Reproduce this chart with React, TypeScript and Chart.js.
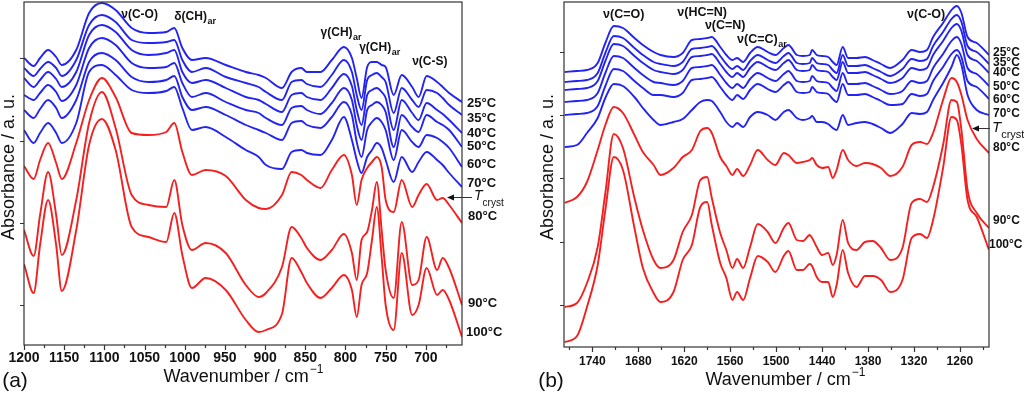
import React, { useEffect, useRef } from "react";
import { Chart, registerables } from "chart.js";

Chart.register(...registerables);

const FONT = "'Liberation Sans', Arial, Helvetica, sans-serif";
const BLUE = "#2323f2";
const RED = "#f42020";
const INK = "#111111";
const AXIS = "#333333";

// ---------------- Panel (a) data: wavenumber (cm-1) and absorbance (a.u., offset traces) ----------------
const WN_A = [1200, 1188, 1180, 1170, 1160, 1153, 1135, 1119, 1103, 1086, 1066, 1045, 1023, 1013, 1003, 991, 974, 949, 924, 908, 899, 879, 867, 855, 848, 831, 817, 802, 792, 786, 780, 773, 767, 761, 755, 750, 740, 730, 717, 709, 699, 686, 679, 671, 655];
const A_25 = [287, 279, 287, 295, 288, 280, 295, 332, 342, 335, 317, 312, 313, 317, 297, 285, 287, 280, 273, 270, 267, 257, 273, 277, 273, 273, 285, 298, 287, 267, 247, 278, 283, 283, 280, 278, 250, 270, 258, 248, 269, 263, 258, 252, 243];
const A_35 = [277, 269, 276, 283, 277, 269, 285, 320, 330, 323, 305, 302, 303, 305, 285, 273, 277, 268, 262, 258, 253, 245, 263, 265, 261, 258, 270, 285, 273, 250, 235, 265, 270, 272, 268, 263, 232, 257, 245, 238, 255, 252, 247, 240, 230];
const A_40 = [267, 258, 265, 273, 266, 258, 273, 310, 320, 313, 295, 290, 292, 295, 273, 262, 265, 257, 248, 245, 241, 233, 250, 252, 248, 245, 257, 271, 259, 235, 220, 250, 255, 257, 253, 247, 215, 245, 232, 225, 242, 235, 231, 225, 212];
const A_50 = [250, 245, 252, 260, 253, 244, 260, 297, 307, 300, 282, 277, 278, 282, 262, 248, 252, 243, 235, 232, 227, 220, 237, 239, 235, 231, 242, 257, 245, 220, 205, 235, 240, 243, 240, 233, 198, 230, 218, 213, 230, 223, 220, 215, 198];
const A_60 = [235, 227, 236, 245, 237, 227, 245, 283, 292, 285, 268, 263, 265, 269, 248, 235, 238, 230, 220, 215, 212, 205, 222, 224, 220, 217, 228, 243, 230, 203, 188, 215, 223, 227, 223, 215, 185, 215, 203, 198, 210, 207, 203, 197, 178];
const A_70 = [215, 202, 212, 222, 212, 202, 222, 273, 280, 270, 255, 252, 254, 258, 237, 215, 218, 208, 195, 188, 180, 176, 193, 195, 192, 190, 205, 228, 205, 185, 172, 188, 195, 202, 197, 185, 163, 188, 173, 183, 193, 185, 180, 172, 158];
const A_80 = [179, 166, 185, 202, 182, 166, 202, 245, 267, 248, 212, 210, 213, 222, 193, 170, 175, 169, 145, 137, 136, 150, 173, 170, 165, 157, 175, 190, 170, 140, 165, 177, 183, 188, 178, 145, 133, 165, 138, 150, 161, 145, 147, 140, 122];
const A_90 = [115, 89, 130, 173, 130, 90, 145, 222, 253, 217, 150, 140, 138, 165, 120, 95, 102, 92, 60, 48, 52, 78, 118, 107, 97, 85, 95, 111, 92, 65, 105, 113, 135, 163, 115, 75, 47, 123, 60, 65, 108, 75, 87, 77, 40];
const A_100 = [81, 52, 100, 145, 100, 54, 115, 200, 226, 195, 118, 108, 103, 132, 90, 57, 67, 55, 25, 13, 15, 31, 87, 73, 62, 47, 57, 70, 55, 28, 60, 72, 105, 138, 88, 40, 15, 92, 30, 40, 77, 50, 55, 45, 8];

const X_TICKS_A = [1200, 1150, 1100, 1050, 1000, 950, 900, 850, 800, 750, 700];
const Y_TICKS_A = [40, 122, 204, 287];

// ---------------- Panel (b) data ----------------
const WN_B = [1776, 1760, 1747, 1733, 1723, 1712, 1700, 1685, 1674, 1660, 1651, 1634, 1622, 1610, 1599, 1590, 1584, 1573, 1565, 1557, 1551, 1543, 1534, 1524, 1511, 1501, 1490, 1484, 1473, 1465, 1456, 1453, 1447, 1440, 1432, 1426, 1421, 1413, 1406, 1395, 1384, 1374, 1363, 1351, 1335, 1323, 1312, 1303, 1295, 1282, 1271, 1264, 1258, 1250, 1238, 1222];
const B_25 = [275, 276, 277, 284, 304, 321, 319, 309, 302, 295, 292, 290, 294, 307, 308, 309, 310, 300, 292, 287, 289, 285, 294, 300, 295, 292, 299, 302, 292, 291, 292, 297, 292, 291, 290, 285, 282, 300, 289, 289, 290, 287, 283, 279, 287, 297, 295, 297, 310, 324, 337, 341, 334, 310, 304, 292];
const B_35 = [265, 266, 267, 274, 294, 311, 309, 299, 292, 285, 283, 281, 285, 298, 299, 300, 301, 291, 283, 278, 281, 277, 286, 292, 287, 284, 291, 294, 284, 283, 284, 289, 284, 283, 282, 277, 274, 292, 281, 281, 282, 279, 275, 271, 278, 288, 286, 288, 301, 315, 328, 332, 325, 301, 295, 283];
const B_40 = [257, 258, 259, 266, 286, 303, 301, 291, 284, 277, 275, 273, 277, 290, 291, 292, 293, 283, 275, 270, 274, 270, 279, 285, 280, 277, 284, 287, 277, 276, 277, 282, 277, 276, 275, 270, 267, 285, 274, 274, 275, 272, 268, 264, 269, 279, 277, 279, 292, 306, 319, 323, 316, 292, 286, 274];
const B_50 = [245, 246, 247, 254, 274, 291, 289, 279, 272, 265, 264, 262, 266, 279, 280, 281, 282, 272, 264, 259, 263, 259, 268, 274, 269, 266, 273, 276, 266, 265, 266, 271, 266, 265, 264, 259, 256, 274, 263, 263, 264, 261, 257, 253, 256, 266, 264, 266, 279, 293, 306, 310, 303, 279, 273, 261];
const B_60 = [232, 233, 234, 241, 261, 278, 276, 266, 259, 252, 252, 250, 254, 267, 268, 269, 270, 260, 252, 247, 252, 248, 257, 263, 258, 255, 262, 265, 255, 254, 255, 260, 255, 254, 253, 248, 245, 263, 252, 252, 253, 250, 246, 242, 243, 253, 251, 253, 266, 280, 293, 297, 290, 266, 260, 248];
const B_70 = [200, 202, 214, 229, 249, 263, 261, 250, 239, 227, 222, 225, 228, 237, 245, 247, 246, 235, 225, 220, 224, 220, 230, 235, 232, 227, 235, 237, 229, 227, 229, 231, 225, 225, 223, 219, 217, 232, 222, 224, 225, 223, 219, 214, 223, 234, 233, 235, 247, 264, 280, 292, 282, 252, 237, 232];
const B_80 = [144, 150, 165, 197, 222, 240, 234, 212, 195, 182, 172, 179, 190, 197, 216, 219, 214, 190, 181, 172, 178, 171, 182, 197, 187, 182, 194, 192, 184, 185, 187, 189, 182, 179, 180, 169, 177, 197, 187, 181, 184, 183, 179, 171, 180, 202, 205, 203, 214, 247, 269, 265, 252, 227, 208, 194];
const B_90 = [40, 44, 64, 100, 154, 213, 199, 149, 117, 87, 79, 87, 115, 132, 167, 170, 149, 114, 97, 79, 88, 79, 100, 123, 115, 104, 119, 124, 107, 106, 112, 109, 100, 92, 94, 82, 92, 127, 104, 97, 105, 106, 99, 87, 99, 144, 148, 145, 160, 202, 247, 245, 217, 157, 134, 119];
const B_100 = [5, 11, 40, 82, 137, 190, 177, 119, 79, 54, 45, 55, 87, 102, 140, 145, 122, 84, 69, 47, 55, 47, 69, 91, 85, 75, 91, 96, 77, 77, 83, 81, 70, 65, 65, 50, 62, 97, 74, 60, 71, 71, 67, 55, 67, 109, 113, 109, 127, 179, 230, 227, 202, 147, 130, 97];

const X_TICKS_B = [1740, 1680, 1620, 1560, 1500, 1440, 1380, 1320, 1260];
const Y_TICKS_B = [42, 105, 169, 232, 295];

const TEMPS = ["25°C", "35°C", "40°C", "50°C", "60°C", "70°C", "80°C", "90°C", "100°C"];
const TEMP_H_A = [242, 227, 212, 199, 181, 162, 129, 42, 13];
const TEMP_H_B = [294, 284, 274, 260, 247, 233, 199, 126, 102];

type Ann = { text: string; sub?: string; wn: number; h: number };
const ANN_A: Ann[] = [
  { text: "ν(C-O)", wn: 1079, h: 330 },
  { text: "δ(CH)", sub: "ar", wn: 1013, h: 328 },
  { text: "γ(CH)", sub: "ar", wn: 831, h: 312 },
  { text: "γ(CH)", sub: "ar", wn: 783, h: 297 },
  { text: "ν(C-S)", wn: 717, h: 283 },
];
const ANN_B: Ann[] = [
  { text: "ν(C=O)", wn: 1726, h: 332 },
  { text: "ν(HC=N)", wn: 1629, h: 334 },
  { text: "ν(C=N)", wn: 1593, h: 321 },
  { text: "ν(C=C)", sub: "ar", wn: 1551, h: 307 },
  { text: "ν(C-O)", wn: 1329, h: 332 },
];

interface Panel {
  wn: number[];
  series: number[][];
  xMin: number;
  xMax: number;
  yMax: number;
  xTicks: number[];
  xMinor: number;
  yTicks: number[];
  tickFont: number;
  tickPad: number;
  tempH: number[];
  tempDx: number[];
  tempFont: number;
  anns: Ann[];
  annFont: number;
  tcryst: { h: number; x1: number; x2: number; tx: number; size: number };
  yTitle: { x: number; y: number };
  xTitle: { x: number; y: number };
  letter: { text: string; x: number; y: number };
  padLeft: number;
  yWidth: number;
  padRight: number;
  padTop: number;
  xHeight: number;
}

const PANEL_A: Panel = {
  wn: WN_A,
  series: [A_25, A_35, A_40, A_50, A_60, A_70, A_80, A_90, A_100],
  xMin: 655,
  xMax: 1200,
  yMax: 343,
  xTicks: X_TICKS_A,
  xMinor: 25,
  yTicks: Y_TICKS_A,
  tickFont: 14,
  tickPad: 5,
  tempH: TEMP_H_A,
  tempDx: [5, 5, 5, 5, 5, 5, 6, 6, 4],
  tempFont: 13,
  anns: ANN_A,
  annFont: 12,
  tcryst: { h: 148, x1: 10, x2: -15, tx: 12, size: 14 },
  yTitle: { x: 9, y: 167 },
  xTitle: { x: 243, y: 377 },
  letter: { text: "(a)", x: 15, y: 381 },
  padLeft: 0,
  yWidth: 24,
  padRight: 50,
  padTop: 2,
  xHeight: 50,
};

const PANEL_B: Panel = {
  wn: WN_B,
  series: [B_25, B_35, B_40, B_50, B_60, B_70, B_80, B_90, B_100],
  xMin: 1222,
  xMax: 1777,
  yMax: 345,
  xTicks: X_TICKS_B,
  xMinor: 30,
  yTicks: Y_TICKS_B,
  tickFont: 12,
  tickPad: 7,
  tempH: TEMP_H_B,
  tempDx: [4, 4, 4, 4, 4, 4, 4, 4, 0],
  tempFont: 12,
  anns: ANN_B,
  annFont: 12.5,
  tcryst: { h: 219, x1: 1, x2: -17, tx: 3, size: 15 },
  yTitle: { x: 36, y: 167 },
  xTitle: { x: 273, y: 380 },
  letter: { text: "(b)", x: 39, y: 381 },
  padLeft: 26,
  yWidth: 26,
  padRight: 35,
  padTop: 2,
  xHeight: 48,
};

function overlayPlugin(p: Panel) {
  return {
    id: "overlay",
    afterDraw(chart: any) {
      const ctx: CanvasRenderingContext2D = chart.ctx;
      const a = chart.chartArea;
      const xs = chart.scales.x;
      const ys = chart.scales.y;
      ctx.save();

      // frame
      ctx.strokeStyle = AXIS;
      ctx.lineWidth = 1.2;
      ctx.strokeRect(a.left, a.top, a.right - a.left, a.bottom - a.top);

      // tick marks
      ctx.beginPath();
      const start = Math.ceil(p.xMin / p.xMinor) * p.xMinor;
      for (let v = start; v <= p.xMax; v += p.xMinor) {
        const px = Math.round(xs.getPixelForValue(v)) + 0.5;
        const major = p.xTicks.indexOf(v) >= 0;
        ctx.moveTo(px, a.bottom);
        ctx.lineTo(px, a.bottom + (major ? 5 : 3));
      }
      for (const v of p.yTicks) {
        const py = Math.round(ys.getPixelForValue(v)) + 0.5;
        ctx.moveTo(a.left - 4, py);
        ctx.lineTo(a.left, py);
      }
      ctx.stroke();

      ctx.fillStyle = INK;
      ctx.textBaseline = "middle";
      ctx.textAlign = "left";

      // band annotations
      for (const an of p.anns) {
        const x = xs.getPixelForValue(an.wn);
        const y = ys.getPixelForValue(an.h);
        ctx.font = `bold ${p.annFont}px ${FONT}`;
        ctx.fillText(an.text, x, y);
        if (an.sub) {
          const w = ctx.measureText(an.text).width;
          ctx.font = `bold ${Math.round(p.annFont * 0.72)}px ${FONT}`;
          ctx.fillText(an.sub, x + w + 0.5, y + p.annFont * 0.4);
        }
      }

      // temperature labels
      ctx.font = `bold ${p.tempFont}px ${FONT}`;
      TEMPS.forEach((t, i) => {
        ctx.fillText(t, a.right + p.tempDx[i], ys.getPixelForValue(p.tempH[i]));
      });

      // T_cryst arrow
      const ty = Math.round(ys.getPixelForValue(p.tcryst.h)) + 0.5;
      const x1 = a.right + p.tcryst.x1;
      const x2 = a.right + p.tcryst.x2;
      ctx.strokeStyle = AXIS;
      ctx.lineWidth = 1;
      ctx.beginPath();
      ctx.moveTo(x1, ty);
      ctx.lineTo(x2 + 5, ty);
      ctx.stroke();
      ctx.beginPath();
      ctx.moveTo(x2, ty);
      ctx.lineTo(x2 + 7, ty - 3);
      ctx.lineTo(x2 + 7, ty + 3);
      ctx.closePath();
      ctx.fill();
      const tx = a.right + p.tcryst.tx;
      ctx.font = `italic ${p.tcryst.size}px ${FONT}`;
      ctx.fillText("T", tx, ty - 1);
      const tw = ctx.measureText("T").width;
      ctx.font = `${Math.round(p.tcryst.size * 0.72)}px ${FONT}`;
      ctx.fillText("cryst", tx + tw, ty + p.tcryst.size * 0.42);

      // axis titles
      ctx.save();
      ctx.translate(p.yTitle.x, p.yTitle.y);
      ctx.rotate(-Math.PI / 2);
      ctx.textAlign = "center";
      ctx.font = `18px ${FONT}`;
      ctx.fillText("Absorbance / a. u.", 0, 0);
      ctx.restore();

      ctx.font = `18px ${FONT}`;
      const main = "Wavenumber / cm";
      const wMain = ctx.measureText(main).width;
      ctx.font = `12px ${FONT}`;
      const sup = "\u22121";
      const wSup = ctx.measureText(sup).width;
      const sx = p.xTitle.x - (wMain + wSup) / 2;
      ctx.font = `18px ${FONT}`;
      ctx.fillText(main, sx, p.xTitle.y);
      ctx.font = `12px ${FONT}`;
      ctx.fillText(sup, sx + wMain + 1, p.xTitle.y - 7);

      // panel letter
      ctx.textAlign = "center";
      ctx.font = `21px ${FONT}`;
      ctx.fillText(p.letter.text, p.letter.x, p.letter.y);

      ctx.restore();
    },
  };
}

function makeConfig(p: Panel): any {
  return {
    type: "line",
    data: {
      datasets: p.series.map((s, i) => ({
        label: TEMPS[i],
        data: p.wn.map((x, j) => ({ x, y: s[j] })),
        borderColor: i < 6 ? BLUE : RED,
        borderWidth: 1.9,
        pointRadius: 0,
        fill: false,
        cubicInterpolationMode: "monotone",
      })),
    },
    options: {
      animation: false,
      responsive: false,
      maintainAspectRatio: false,
      events: [],
      layout: { padding: { left: p.padLeft, right: p.padRight, top: p.padTop, bottom: 0 } },
      plugins: { legend: { display: false }, tooltip: { enabled: false } },
      scales: {
        x: {
          type: "linear",
          reverse: true,
          min: p.xMin,
          max: p.xMax,
          afterBuildTicks: (s: any) => {
            s.ticks = p.xTicks.map((v) => ({ value: v }));
          },
          afterFit: (s: any) => {
            s.height = p.xHeight;
          },
          grid: { display: false, drawTicks: false },
          border: { display: false },
          ticks: {
            autoSkip: false,
            maxRotation: 0,
            padding: p.tickPad,
            color: INK,
            font: { family: FONT, size: p.tickFont, weight: "bold" },
            callback: (v: any) => String(v),
          },
        },
        y: {
          type: "linear",
          min: 0,
          max: p.yMax,
          afterFit: (s: any) => {
            s.width = p.yWidth;
          },
          grid: { display: false, drawTicks: false },
          border: { display: false },
          ticks: { display: false },
        },
      },
    },
    plugins: [overlayPlugin(p)],
  };
}

function PanelChart({ p, left }: { p: Panel; left: number }) {
  const ref = useRef<HTMLCanvasElement | null>(null);
  useEffect(() => {
    const c = ref.current;
    if (!c) return;
    const chart = new Chart(c, makeConfig(p));
    return () => chart.destroy();
  }, [p]);
  return (
    <canvas
      ref={ref}
      width={512}
      height={395}
      style={{ position: "absolute", left, top: 0, width: 512, height: 395 }}
    />
  );
}

export default function App() {
  return (
    <div
      style={{
        position: "fixed",
        left: 0,
        top: 0,
        width: 1024,
        height: 395,
        background: "#ffffff",
        overflow: "hidden",
      }}
    >
      <PanelChart p={PANEL_A} left={0} />
      <PanelChart p={PANEL_B} left={512} />
    </div>
  );
}
